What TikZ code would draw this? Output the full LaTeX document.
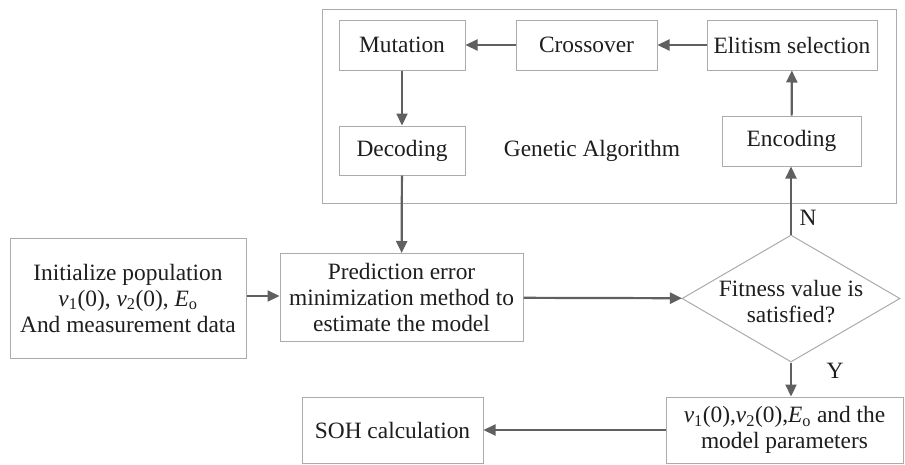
\documentclass[tikz,border=0pt]{standalone}
\usepackage{fontspec}
\setmainfont{Liberation Serif}
\usetikzlibrary{arrows.meta,shapes.geometric}
\newcommand\vsub[2]{\textit{#1}\textsubscript{#2}}
\begin{document}
\begin{tikzpicture}[x=1pt,y=-1pt,
  font=\fontsize{23.4}{26}\selectfont,
  box/.style={draw=boxgray,line width=1pt,rectangle,inner sep=0pt,align=center,text=textgray},
  arr/.style={draw=arrgray,line width=2.2pt,-{Triangle[length=12pt,width=11pt]}},
  lbl/.style={text=textgray,inner sep=0pt}]
\definecolor{boxgray}{HTML}{ABABAB}
\definecolor{arrgray}{HTML}{606060}
\definecolor{textgray}{HTML}{1E1E1E}
\useasboundingbox (0,0) rectangle (905,464);
\fill[white] (0,0) rectangle (905,464);
% outer GA box
\node[box,minimum width=574pt,minimum height=194pt] (ga) at (609,106) {};
\node[box,minimum width=126pt,minimum height=50pt] (mut) at (402,45) {Mutation};
\node[box,minimum width=141pt,minimum height=50pt] (cro) at (586.5,45) {Crossover};
\node[box,minimum width=170pt,minimum height=50pt] (eli) at (792,45) {Elitism selection};
\node[box,minimum width=126pt,minimum height=49pt] (dec) at (402,150.5) {Decoding};
\node[box,minimum width=139pt,minimum height=50pt] (enc) at (791.5,141) {Encoding};
\node[lbl] (gatxt) at (592,151) {Genetic Algorithm};
% lower part
\node[box,minimum width=236pt,minimum height=120pt] (ini) at (128,298)
  {Initialize population\\ \vsub{v}{1}(0), \vsub{v}{2}(0), \vsub{E}{o}\\ And measurement data};
\node[box,minimum width=243pt,minimum height=88pt] (pre) at (401.5,297.5)
  {Prediction error\\ minimization method to\\ estimate the model};
\node[draw=boxgray,line width=1pt,diamond,aspect=1.717,minimum width=218pt,minimum height=127pt,inner sep=0pt] (dia) at (791,298.5) {};
\node[lbl,align=center] (diatxt) at (791,302) {Fitness value is\\ satisfied?};
\node[box,minimum width=237pt,minimum height=66pt] (fin) at (784.5,430)
  {\vsub{v}{1}(0),\vsub{v}{2}(0),\vsub{E}{o} and the\\ model parameters};
\node[box,minimum width=181pt,minimum height=66pt] (soh) at (392.5,430) {SOH calculation};
\node[lbl] (nlab) at (808,218) {N};
\node[lbl] (ylab) at (835,371) {Y};
% connectors
\draw[arr] (cro) -- (mut);
\draw[arr] (eli) -- (cro);
\draw[arr] (mut) -- (dec);
\draw[arr] (enc) -- (eli);
\draw[arr] (dec) -- (pre);
\draw[arr] (ini.east |- 0,296) -- (pre.west |- 0,296);
\draw[arr] (pre) -- (dia);
\draw[arr] (dia.north) -- (dia.north |- enc.south);
\draw[arr] (dia.south) -- (dia.south |- fin.north);
\draw[arr] (fin.west |- 0,430) -- (soh.east |- 0,430);
\end{tikzpicture}
\end{document}
